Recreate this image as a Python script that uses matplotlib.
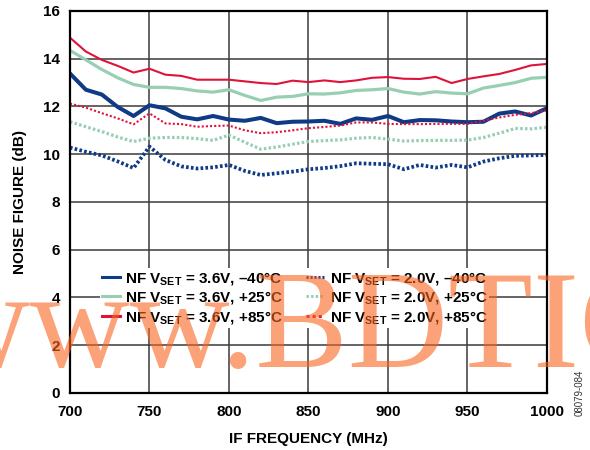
import matplotlib
matplotlib.use("Agg")
import matplotlib.pyplot as plt

# IF frequency (MHz)
freq = [700, 710, 720, 730, 740, 750, 760, 770, 780, 790, 800,
        810, 820, 830, 840, 850, 860, 870, 880, 890, 900,
        910, 920, 930, 940, 950, 960, 970, 980, 990, 1000]

# noise figure (dB), VSET = 3.6V
nf_36_m40 = [13.38, 12.70, 12.50, 11.98, 11.60, 12.05, 11.92, 11.57, 11.46, 11.60, 11.45,
             11.40, 11.52, 11.30, 11.36, 11.37, 11.40, 11.27, 11.50, 11.44, 11.60,
             11.34, 11.43, 11.42, 11.37, 11.34, 11.36, 11.70, 11.79, 11.62, 11.93]
nf_36_p25 = [14.35, 13.95, 13.55, 13.20, 12.92, 12.80, 12.80, 12.75, 12.65, 12.60, 12.70,
             12.46, 12.25, 12.39, 12.42, 12.53, 12.52, 12.57, 12.67, 12.70, 12.75,
             12.60, 12.52, 12.62, 12.56, 12.53, 12.77, 12.88, 13.00, 13.18, 13.22]
nf_36_p85 = [14.88, 14.30, 13.95, 13.70, 13.42, 13.58, 13.33, 13.28, 13.12, 13.12, 13.12,
             13.05, 12.98, 12.94, 13.08, 13.02, 13.09, 13.02, 13.09, 13.20, 13.23,
             13.16, 13.15, 13.24, 12.98, 13.15, 13.26, 13.36, 13.53, 13.72, 13.78]

# noise figure (dB), VSET = 2.0V
nf_20_m40 = [10.28, 10.10, 9.95, 9.70, 9.42, 10.32, 9.76, 9.49, 9.40, 9.45, 9.55,
             9.30, 9.13, 9.20, 9.27, 9.37, 9.42, 9.50, 9.62, 9.60, 9.58,
             9.37, 9.55, 9.44, 9.55, 9.45, 9.69, 9.83, 9.93, 9.95, 9.97]
nf_20_p25 = [11.36, 11.15, 10.95, 10.72, 10.53, 10.67, 10.70, 10.70, 10.65, 10.58, 10.80,
             10.50, 10.21, 10.30, 10.42, 10.53, 10.57, 10.60, 10.67, 10.70, 10.63,
             10.55, 10.57, 10.58, 10.58, 10.59, 10.70, 10.88, 11.08, 11.06, 11.13]
nf_20_p85 = [12.12, 11.95, 11.72, 11.50, 11.25, 11.71, 11.29, 11.26, 11.15, 11.18, 11.20,
             11.00, 10.88, 10.92, 11.00, 11.09, 11.14, 11.20, 11.33, 11.33, 11.27,
             11.26, 11.26, 11.27, 11.27, 11.27, 11.40, 11.54, 11.65, 11.72, 11.83]

labels = [
    "NF $V_{SET}$ = 3.6V, \u201340°C",
    "NF $V_{SET}$ = 3.6V, +25°C",
    "NF $V_{SET}$ = 3.6V, +85°C",
    "NF $V_{SET}$ = 2.0V, \u201340°C",
    "NF $V_{SET}$ = 2.0V, +25°C",
    "NF $V_{SET}$ = 2.0V, +85°C",
]

BLUE = "#0f3a85"
GREEN = "#98cfb3"
RED = "#e0123a"

plt.rcParams["font.family"] = ["Liberation Sans", "DejaVu Sans"]
plt.rcParams["font.weight"] = "bold"
plt.rcParams["mathtext.fontset"] = "custom"
plt.rcParams["mathtext.bf"] = "Liberation Sans:bold"
plt.rcParams["mathtext.rm"] = "Liberation Sans:bold"
plt.rcParams["mathtext.default"] = "bf"

fig = plt.figure(figsize=(5.9, 4.5), dpi=100)
ax = fig.add_axes([0.1186, 0.1267, 0.8085, 0.849])

ax.plot(freq, nf_36_m40, color=BLUE, lw=2.9, label=labels[0])
ax.plot(freq, nf_36_p25, color=GREEN, lw=2.3, label=labels[1])
ax.plot(freq, nf_36_p85, color=RED, lw=1.5, label=labels[2])
ax.plot(freq, nf_20_m40, color=BLUE, lw=2.7, ls=(0, (0.7, 0.6)), label=labels[3])
ax.plot(freq, nf_20_p25, color=GREEN, lw=2.3, ls=(0, (0.8, 0.7)), label=labels[4])
ax.plot(freq, nf_20_p85, color=RED, lw=1.5, ls=(0, (1, 1)), label=labels[5])

ax.set_xlim(700, 1000)
ax.set_ylim(0, 16)
ax.set_xticks(range(700, 1001, 50))
ax.set_yticks(range(0, 17, 2))
ax.grid(True, color="#3a3a3a", lw=1.1)
ax.set_axisbelow(True)
ax.tick_params(length=0, labelsize=11)
ax.tick_params(axis="x", pad=9)
ax.tick_params(axis="y", pad=7)
for s in ax.spines.values():
    s.set_linewidth(1.6)
    s.set_color("black")

ax.set_xlabel("IF FREQUENCY (MHz)", fontsize=11, fontweight="bold", labelpad=9)
ax.set_ylabel("NOISE FIGURE (dB)", fontsize=11, fontweight="bold", labelpad=12)

leg = ax.legend(
    loc="upper left",
    bbox_to_anchor=(0.047, 0.347),
    ncol=2,
    fontsize=11,
    frameon=True,
    fancybox=False,
    facecolor="white",
    edgecolor="none",
    framealpha=1,
    handlelength=1.2,
    handletextpad=0.35,
    columnspacing=1.5,
    labelspacing=0.18,
    borderpad=0.1,
)
for h in leg.get_lines():
    h.set_linewidth(2.2)

fig.text(0.983, 0.075, "08079-084", rotation=90, fontsize=7, fontweight="normal",
         color="#333333", ha="center", va="bottom")

# watermark
fig.text(-70 / 590, (450 - 367) / 450, "www.BDTIC", fontsize=100,
         family="Liberation Serif", fontweight="normal", color="#fa641e",
         alpha=0.6, ha="left", va="baseline", zorder=20)

fig.savefig("out.png", dpi=100)
